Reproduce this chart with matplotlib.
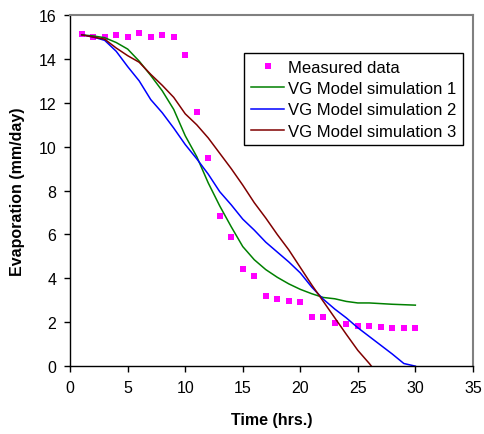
import matplotlib
matplotlib.use('Agg')
import matplotlib.pyplot as plt

plt.rcParams['font.family'] = ['Liberation Sans', 'DejaVu Sans']

# measured evaporation, one point per hour
time_meas = list(range(1, 31))
evap_meas = [15.13, 15.0, 15.0, 15.1, 15.0, 15.2, 15.0, 15.1, 15.0, 14.2,
             11.6, 9.48, 6.84, 5.89, 4.45, 4.12, 3.18, 3.05, 2.98, 2.93,
             2.25, 2.25, 1.97, 1.93, 1.85, 1.85, 1.8, 1.75, 1.75, 1.75]

# VG model simulations
time_sim = list(range(1, 31))
sim1 = [15.1, 15.05, 14.97, 14.75, 14.45, 13.9, 13.25, 12.55, 11.7, 10.5,
        9.55, 8.35, 7.3, 6.35, 5.45, 4.85, 4.4, 4.05, 3.75, 3.5,
        3.3, 3.13, 3.07, 2.95, 2.88, 2.88, 2.85, 2.82, 2.8, 2.78]
sim2 = [15.1, 15.0, 14.85, 14.35, 13.65, 13.0, 12.15, 11.55, 10.85, 10.1,
        9.45, 8.75, 7.95, 7.35, 6.7, 6.2, 5.65, 5.2, 4.75, 4.25,
        3.6, 3.05, 2.6, 2.2, 1.75, 1.35, 0.95, 0.55, 0.12, 0.0]
time_sim3 = list(range(1, 28))
sim3 = [15.1, 15.0, 14.9, 14.5, 14.15, 13.85, 13.3, 12.8, 12.25, 11.5,
        11.0, 10.4, 9.7, 9.0, 8.25, 7.45, 6.75, 6.0, 5.3, 4.5,
        3.7, 2.95, 2.2, 1.45, 0.72, 0.12, -0.55]

fig = plt.figure(figsize=(4.84, 4.35), dpi=100)
ax = fig.add_axes([0.145, 0.156, 0.832, 0.807])

ax.plot(time_meas, evap_meas, 's', color='#ff00ff', markersize=4.3,
        markeredgewidth=0, label='Measured data')
ax.plot(time_sim, sim1, '-', color='#008000', linewidth=1.1, label='VG Model simulation 1')
ax.plot(time_sim, sim2, '-', color='#0000ff', linewidth=1.1, label='VG Model simulation 2')
ax.plot(time_sim3, sim3, '-', color='#800000', linewidth=1.1, label='VG Model simulation 3')

ax.set_xlim(0, 35)
ax.set_ylim(0, 16)
ax.set_xticks(range(0, 36, 5))
ax.set_yticks(range(0, 17, 2))
ax.tick_params(direction='out', length=4, width=1, labelsize=11.5, pad=6)

for s in ['left', 'bottom']:
    ax.spines[s].set_color('black')
    ax.spines[s].set_linewidth(1.0)
for s in ['top', 'right']:
    ax.spines[s].set_color('#808080')
    ax.spines[s].set_linewidth(1.5)

ax.set_xlabel('Time (hrs.)', fontsize=11.5, fontweight='bold', labelpad=12)
ax.set_ylabel('Evaporation (mm/day)', fontsize=11.5, fontweight='bold', labelpad=10)

leg = ax.legend(loc='upper right', bbox_to_anchor=(0.975, 0.892), fontsize=12,
                frameon=True, fancybox=False, edgecolor='black', framealpha=1,
                borderpad=0.4, labelspacing=0.38, handlelength=2.0, handletextpad=0.2,
                borderaxespad=0)
leg.get_frame().set_linewidth(1.0)

fig.savefig('out.png', dpi=100)
